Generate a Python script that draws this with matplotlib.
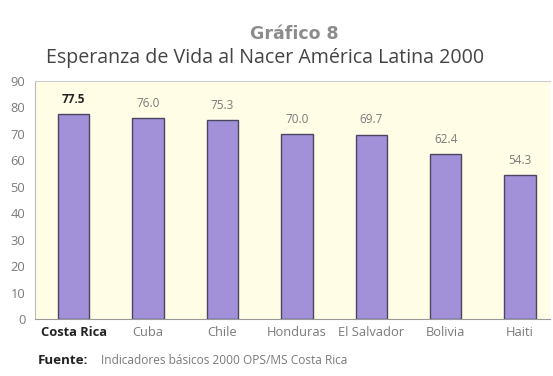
import matplotlib.pyplot as plt

# esperanza de vida al nacer, 2000
paises = ['Costa Rica', 'Cuba', 'Chile', 'Honduras', 'El Salvador', 'Bolivia', 'Haiti']
valores = [77.5, 76.0, 75.3, 70.0, 69.7, 62.4, 54.3]
etiquetas = ['77.5', '76.0', '75.3', '70.0', '69.7', '62.4', '54.3']
yticks = [0, 10, 20, 30, 40, 50, 60, 70, 80, 90]

plt.rcParams['font.family'] = ['Open Sans', 'DejaVu Sans']

gris = '#7a7a7a'
fig = plt.figure(figsize=(5.53, 3.76), dpi=100)
ax = fig.add_axes([0.0633, 0.1516, 0.931, 0.633])
ax.set_facecolor('#fffde6')

x = range(len(paises))
ax.bar(x, valores, width=0.42, color='#a290d8', edgecolor='#4b4660', linewidth=1.0)

for i, (v, t) in enumerate(zip(valores, etiquetas)):
    ax.annotate(t, (i, v), xytext=(0, 6), textcoords='offset points',
                ha='center', va='bottom', fontsize=8.5,
                color='#222222' if i == 0 else gris,
                fontweight='bold' if i == 0 else 'normal')

ax.set_xlim(-0.52, 6.4)
ax.set_ylim(0, 89.3)
ax.set_yticks(yticks)
ax.set_xticks(list(x))
ax.set_xticklabels(paises)
ax.tick_params(axis='both', length=0, labelsize=9.3, colors=gris, pad=5)
ax.tick_params(axis='y', pad=7)
ax.get_xticklabels()[0].set_fontweight('bold')
ax.get_xticklabels()[0].set_color('#222222')

ax.spines['right'].set_visible(False)
ax.spines['left'].set_color('#bbbbbb')
ax.spines['bottom'].set_color('#999999')
ax.spines['top'].set_color('#cccccc')

fig.text(0.533, 0.91, 'Gráfico 8', ha='center', va='center', fontsize=12.5,
         fontweight='heavy', color='#8c8c8c', family=['DejaVu Sans'])
fig.text(0.480, 0.845, 'Esperanza de Vida al Nacer América Latina 2000',
         ha='center', va='center', fontsize=14.1, color='#444444')

fig.text(0.069, 0.042, 'Fuente:', ha='left', va='center', fontsize=9.6,
         fontweight='bold', color='#222222')
fig.text(0.183, 0.042, 'Indicadores básicos 2000 OPS/MS Costa Rica',
         ha='left', va='center', fontsize=8.6, color=gris)

fig.savefig('out.png', dpi=100, facecolor='white')
